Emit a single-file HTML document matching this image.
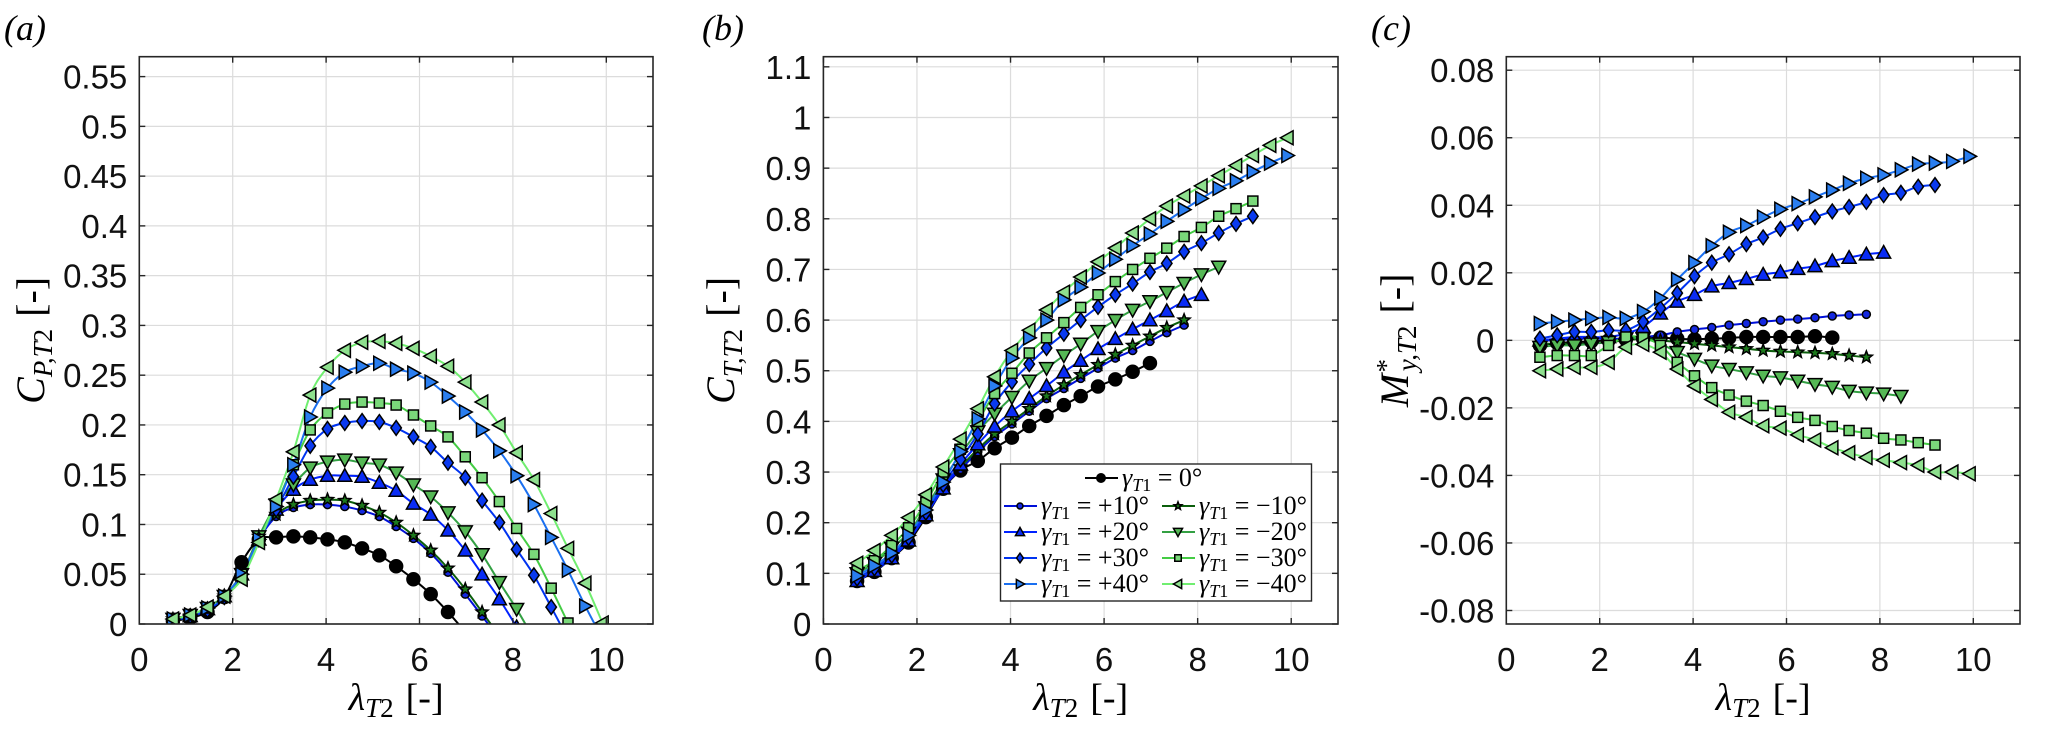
<!DOCTYPE html>
<html><head><meta charset="utf-8">
<style>
html,body{margin:0;padding:0;background:#fff;}
svg{display:block;}
.tick{font-family:"Liberation Sans",sans-serif;font-size:33px;fill:#111;}
.ser{font-family:"Liberation Serif",serif;}
</style></head>
<body>
<svg id="fig" width="2067" height="729" viewBox="0 0 2067 729" xmlns="http://www.w3.org/2000/svg">
<defs>
<clipPath id="clipA"><rect x="139.3" y="56.7" width="513.7" height="567.3"/></clipPath>
<clipPath id="clipB"><rect x="823.4" y="56.7" width="514.6" height="567.3"/></clipPath>
<clipPath id="clipC"><rect x="1506.3" y="56.7" width="513.7" height="567.3"/></clipPath>
</defs>
<text x="4" y="40" class="ser" font-size="36" font-style="italic">(a)</text>
<text x="702" y="40" class="ser" font-size="36" font-style="italic">(b)</text>
<text x="1371" y="40" class="ser" font-size="36" font-style="italic">(c)</text>
</svg>
<script>
// shared tip-speed-ratio values
const lambdaVals = [0.72,1.09,1.46,1.82,2.19,2.56,2.93,3.30,3.66,4.03,4.40,4.77,5.14,5.50,5.87,6.24,6.61,6.98,7.34,7.71,8.08,8.45,8.82,9.18,9.55,9.92];
const seriesKeys = ["0","p10","m10","p20","m20","p30","m30","p40","m40"];
// Panel (a) C_P
const cp0   = [0.003,0.006,0.012,0.027,0.062,0.085,0.087,0.088,0.087,0.085,0.082,0.076,0.069,0.058,0.045,0.030,0.012,-0.008];
const cpP10 = [0.004,0.007,0.014,0.027,0.050,0.085,0.108,0.117,0.120,0.120,0.118,0.114,0.108,0.098,0.086,0.071,0.052,0.030,0.008,-0.015];
const cpM10 = [0.005,0.008,0.015,0.028,0.048,0.088,0.110,0.120,0.124,0.125,0.124,0.119,0.112,0.102,0.089,0.074,0.056,0.035,0.012,-0.012];
const cpP20 = [0.004,0.008,0.015,0.028,0.050,0.085,0.115,0.135,0.145,0.149,0.149,0.148,0.142,0.134,0.121,0.110,0.094,0.074,0.050,0.025,-0.003];
const cpM20 = [0.005,0.009,0.016,0.028,0.050,0.088,0.120,0.140,0.157,0.163,0.165,0.162,0.160,0.152,0.140,0.128,0.112,0.093,0.070,0.042,0.015,-0.015];
const cpP30 = [0.004,0.008,0.014,0.027,0.050,0.085,0.115,0.148,0.179,0.196,0.202,0.204,0.203,0.197,0.188,0.178,0.162,0.147,0.124,0.102,0.075,0.049,0.017,-0.015];
const cpM30 = [0.005,0.009,0.016,0.028,0.050,0.085,0.120,0.160,0.195,0.212,0.221,0.223,0.222,0.220,0.210,0.199,0.188,0.168,0.147,0.123,0.096,0.070,0.036,0.001];
const cpP40 = [0.005,0.009,0.016,0.028,0.050,0.085,0.118,0.160,0.208,0.237,0.253,0.259,0.262,0.256,0.252,0.243,0.229,0.213,0.195,0.174,0.149,0.120,0.087,0.054,0.018,-0.015];
const cpM40 = [0.005,0.009,0.017,0.028,0.045,0.082,0.125,0.173,0.230,0.258,0.275,0.283,0.284,0.282,0.277,0.269,0.259,0.243,0.223,0.200,0.172,0.145,0.111,0.076,0.041,0.001];
// Panel (b) C_T
const ct0   = [0.085,0.103,0.130,0.161,0.211,0.267,0.303,0.322,0.347,0.368,0.391,0.411,0.432,0.450,0.469,0.483,0.498,0.515];
const ctP10 = [0.085,0.105,0.130,0.165,0.215,0.270,0.305,0.340,0.370,0.395,0.420,0.445,0.465,0.485,0.505,0.525,0.540,0.558,0.575,0.590];
const ctM10 = [0.090,0.110,0.135,0.170,0.220,0.275,0.310,0.345,0.375,0.400,0.425,0.450,0.472,0.492,0.512,0.532,0.550,0.568,0.585,0.600];
const ctP20 = [0.085,0.105,0.130,0.165,0.215,0.268,0.315,0.355,0.390,0.420,0.445,0.470,0.497,0.520,0.543,0.563,0.582,0.600,0.618,0.637,0.650];
const ctM20 = [0.100,0.120,0.150,0.180,0.230,0.285,0.335,0.380,0.415,0.448,0.480,0.505,0.530,0.553,0.578,0.600,0.620,0.637,0.655,0.673,0.690,0.705];
const ctP30 = [0.090,0.110,0.135,0.170,0.220,0.275,0.325,0.375,0.435,0.478,0.513,0.545,0.573,0.600,0.626,0.650,0.672,0.695,0.712,0.735,0.752,0.772,0.790,0.805];
const ctM30 = [0.105,0.125,0.155,0.190,0.240,0.300,0.345,0.400,0.455,0.495,0.535,0.565,0.595,0.625,0.650,0.676,0.700,0.722,0.742,0.765,0.783,0.805,0.820,0.835];
const ctP40 = [0.095,0.115,0.140,0.175,0.225,0.280,0.340,0.405,0.470,0.525,0.565,0.600,0.640,0.665,0.693,0.720,0.747,0.770,0.795,0.818,0.840,0.860,0.875,0.893,0.910,0.925];
const ctM40 = [0.120,0.145,0.175,0.210,0.255,0.310,0.365,0.425,0.488,0.540,0.580,0.620,0.655,0.685,0.715,0.742,0.772,0.800,0.825,0.845,0.865,0.885,0.905,0.925,0.945,0.960];
// Panel (c) M*_y
const my0   = [-0.0015,-0.0008,-0.0005,-0.0003,0,0.0002,0.0005,0.0008,0.0005,0.0003,0.0005,0.0007,0.001,0.001,0.001,0.001,0.0012,0.0008];
const myP10 = [0,0,0.0005,0.0005,0.0005,0.0005,0.001,0.0015,0.0025,0.0032,0.0038,0.0045,0.005,0.0055,0.006,0.0063,0.0067,0.0072,0.0075,0.0077];
const myM10 = [-0.001,-0.001,-0.001,-0.001,-0.0005,0,0.0005,0,-0.0005,-0.001,-0.0015,-0.002,-0.0025,-0.003,-0.0033,-0.0035,-0.0037,-0.004,-0.0045,-0.005];
const myP20 = [0,0.0005,0.001,0.001,0.001,0.002,0.004,0.008,0.0115,0.0135,0.016,0.017,0.0182,0.0195,0.0202,0.0212,0.022,0.0235,0.0245,0.0255,0.026];
const myM20 = [-0.002,-0.0015,-0.0015,-0.001,-0.0005,0.0005,0.0005,-0.001,-0.0035,-0.0055,-0.0075,-0.0085,-0.0095,-0.0105,-0.011,-0.012,-0.013,-0.0138,-0.015,-0.0155,-0.0158,-0.0165];
const myP30 = [0.0005,0.0015,0.0025,0.0025,0.003,0.003,0.0055,0.0095,0.014,0.019,0.023,0.0255,0.0285,0.0305,0.033,0.0347,0.0365,0.0382,0.0395,0.041,0.043,0.0437,0.0455,0.046];
const myM30 = [-0.005,-0.0045,-0.0045,-0.0045,-0.0015,0.001,0.0008,-0.0015,-0.0065,-0.0105,-0.014,-0.0162,-0.018,-0.0193,-0.021,-0.0228,-0.0237,-0.0255,-0.0267,-0.0275,-0.029,-0.0295,-0.0303,-0.031];
const myP40 = [0.005,0.0055,0.006,0.0065,0.0068,0.0065,0.0085,0.0125,0.018,0.023,0.028,0.032,0.034,0.0365,0.0388,0.0405,0.0425,0.0445,0.0465,0.048,0.049,0.0505,0.0522,0.0525,0.053,0.0545];
const myM40 = [-0.009,-0.0085,-0.008,-0.008,-0.0065,-0.002,-0.0012,-0.0035,-0.0085,-0.0135,-0.0175,-0.0213,-0.0228,-0.0253,-0.026,-0.028,-0.0295,-0.0318,-0.0333,-0.0347,-0.0355,-0.0362,-0.037,-0.039,-0.039,-0.0395];
// tick labels
const xTicks = [0,2,4,6,8,10];
const yTicksA = [0,0.05,0.1,0.15,0.2,0.25,0.3,0.35,0.4,0.45,0.5,0.55];
const yTickLabelsA = ["0","0.05","0.1","0.15","0.2","0.25","0.3","0.35","0.4","0.45","0.5","0.55"];
const yTicksB = [0,0.1,0.2,0.3,0.4,0.5,0.6,0.7,0.8,0.9,1,1.1];
const yTickLabelsB = ["0","0.1","0.2","0.3","0.4","0.5","0.6","0.7","0.8","0.9","1","1.1"];
const yTicksC = [-0.08,-0.06,-0.04,-0.02,0,0.02,0.04,0.06,0.08];
const yTickLabelsC = ["-0.08","-0.06","-0.04","-0.02","0","0.02","0.04","0.06","0.08"];
const legendLabels = ["0°","+10°","−10°","+20°","−20°","+30°","−30°","+40°","−40°"];

const NS = "http://www.w3.org/2000/svg";
const fig = document.getElementById('fig');
function mk(tag, attrs, parent){ const e=document.createElementNS(NS,tag); for(const k in attrs) e.setAttribute(k,attrs[k]); (parent||fig).appendChild(e); return e; }

const styles = {
  "0":  {line:"#000000", fill:"#000000", m:"circle", s:6.5},
  "p10":{line:"#0010d8", fill:"#1428e0", m:"dot", s:4},
  "m10":{line:"#0c5e0c", fill:"#1c7a1c", m:"star", s:6},
  "p20":{line:"#0022ff", fill:"#0a2cf5", m:"tup", s:7},
  "m20":{line:"#33a043", fill:"#55b855", m:"tdown", s:7},
  "p30":{line:"#0033f0", fill:"#0a3af0", m:"diamond", s:7},
  "m30":{line:"#44cc44", fill:"#7ad87a", m:"square", s:5},
  "p40":{line:"#1a6ff0", fill:"#2a7ef0", m:"tright", s:7},
  "m40":{line:"#70ee70", fill:"#8ee08e", m:"tleft", s:7}
};

function smoothPath(pts){
  if(pts.length<2) return "";
  let d = "M"+pts[0][0].toFixed(2)+","+pts[0][1].toFixed(2);
  for(let i=0;i<pts.length-1;i++){
    const p0=pts[i-1]||pts[i], p1=pts[i], p2=pts[i+1], p3=pts[i+2]||p2;
    const c1x=p1[0]+(p2[0]-p0[0])/6, c1y=p1[1]+(p2[1]-p0[1])/6;
    const c2x=p2[0]-(p3[0]-p1[0])/6, c2y=p2[1]-(p3[1]-p1[1])/6;
    d+=" C"+c1x.toFixed(2)+","+c1y.toFixed(2)+" "+c2x.toFixed(2)+","+c2y.toFixed(2)+" "+p2[0].toFixed(2)+","+p2[1].toFixed(2);
  }
  return d;
}

function marker(g, type, x, y, s, fill){
  const a = {fill:fill, stroke:"#000", "stroke-width":1.5};
  let e;
  if(type==="circle"||type==="dot"){ e=mk('circle',Object.assign({cx:x,cy:y,r:s},a),g); }
  else if(type==="square"){ e=mk('rect',Object.assign({x:x-s,y:y-s,width:2*s,height:2*s},a),g); }
  else {
    let p;
    if(type==="tup") p=[[x,y-s],[x+s,y+s*0.8],[x-s,y+s*0.8]];
    else if(type==="tdown") p=[[x,y+s],[x+s,y-s*0.8],[x-s,y-s*0.8]];
    else if(type==="tright") p=[[x+s,y],[x-s*0.8,y-s],[x-s*0.8,y+s]];
    else if(type==="tleft") p=[[x-s,y],[x+s*0.8,y-s],[x+s*0.8,y+s]];
    else if(type==="diamond") p=[[x,y-s*1.05],[x+s*0.75,y],[x,y+s*1.05],[x-s*0.75,y]];
    else if(type==="star"){ p=[]; for(let k=0;k<10;k++){const r=k%2?s*0.45:s*1.05; const t=-Math.PI/2+k*Math.PI/5; p.push([x+r*Math.cos(t),y+r*Math.sin(t)]);} }
    e=mk('polygon',Object.assign({points:p.map(q=>q[0].toFixed(2)+","+q[1].toFixed(2)).join(" ")},a),g);
  }
  return e;
}

function panel(cfg){
  const {id,left,right,top,bottom,ymin,ymax,yTicks,yLabels,data,clip} = cfg;
  const sx = v => left + (v-0)/(11-0)*(right-left);
  const sy = v => bottom - (v-ymin)/(ymax-ymin)*(bottom-top);
  const g = mk('g',{});
  
  
  mk('rect',{x:left,y:top,width:right-left,height:bottom-top,fill:"#fff"},g);
  xTicks.forEach(t=>{ const l=mk('line',{x1:sx(t),x2:sx(t),y1:top,y2:bottom,stroke:"#dcdcdc","stroke-width":1.2},g);
      });
  yTicks.forEach(t=>{ const l=mk('line',{x1:left,x2:right,y1:sy(t),y2:sy(t),stroke:"#dcdcdc","stroke-width":1.2},g);
      });
  const sg = mk('g',{"clip-path":"url(#"+clip+")"},g);
  
  
  seriesKeys.forEach((k,si)=>{
    const vals = data[si]; const st = styles[k];
    const pts = vals.map((v,i)=>[sx(lambdaVals[i]), sy(v)]);
    const path = mk('path',{d:smoothPath(pts),fill:"none",stroke:st.line,"stroke-width":2},sg);
    
    
  });
  seriesKeys.forEach((k,si)=>{
    const vals = data[si]; const st = styles[k];
    const mg = mk('g',{},sg);
    
    
    vals.forEach((v,i)=>{ const m=marker(mg, st.m, sx(lambdaVals[i]), sy(v), st.s, st.fill);
      
       });
  });
  const bx = mk('rect',{x:left,y:top,width:right-left,height:bottom-top,fill:"none",stroke:"#262626","stroke-width":1.6},g);
  
  
  xTicks.forEach(t=>{
    mk('line',{x1:sx(t),x2:sx(t),y1:bottom,y2:bottom-6,stroke:"#262626","stroke-width":1.4},g);
    mk('line',{x1:sx(t),x2:sx(t),y1:top,y2:top+6,stroke:"#262626","stroke-width":1.4},g);
    const tx = mk('text',{x:sx(t),y:671,"text-anchor":"middle",class:"tick"},g);
    tx.textContent = String(t);
    
    
  });
  yTicks.forEach((t,i)=>{
    mk('line',{x1:left,x2:left+6,y1:sy(t),y2:sy(t),stroke:"#262626","stroke-width":1.4},g);
    mk('line',{x1:right,x2:right-6,y1:sy(t),y2:sy(t),stroke:"#262626","stroke-width":1.4},g);
    const ty = mk('text',{x:left-12,y:sy(t)+12,"text-anchor":"end",class:"tick"},g);
    ty.textContent = yLabels[i];
    
    
  });
  const xl = mk('text',{x:(left+right)/2,y:710,"text-anchor":"middle",class:"ser","font-size":38},g);
  
  
  xl.innerHTML = '<tspan font-style="italic">λ</tspan><tspan font-style="italic" font-size="27" dy="7">T</tspan><tspan font-size="27">2</tspan><tspan dy="-7" dx="12">[-]</tspan>';
  const cy = (top+bottom)/2;
  const yl = mk('text',{x:0,y:0,"text-anchor":"middle",class:"ser","font-size":40,transform:"translate("+(cfg.ylabX)+","+cy+") rotate(-90)"},g);
  
  
  yl.innerHTML = cfg.ylabHTML;
  return {sx,sy};
}

panel({id:"cp",left:139.3,right:653,top:56.7,bottom:624,ymin:0,ymax:0.57,yTicks:yTicksA,yLabels:yTickLabelsA,clip:"clipA",
  data:[cp0,cpP10,cpM10,cpP20,cpM20,cpP30,cpM30,cpP40,cpM40], ylabX:44,
  ylabHTML:'<tspan font-style="italic">C</tspan><tspan font-style="italic" font-size="27" dy="8">P,T</tspan><tspan font-size="27">2</tspan><tspan dy="-8" dx="12">[-]</tspan>'});
panel({id:"ct",left:823.4,right:1338,top:56.7,bottom:624,ymin:0,ymax:1.12,yTicks:yTicksB,yLabels:yTickLabelsB,clip:"clipB",
  data:[ct0,ctP10,ctM10,ctP20,ctM20,ctP30,ctM30,ctP40,ctM40], ylabX:734,
  ylabHTML:'<tspan font-style="italic">C</tspan><tspan font-style="italic" font-size="27" dy="8">T,T</tspan><tspan font-size="27">2</tspan><tspan dy="-8" dx="12">[-]</tspan>'});
panel({id:"my",left:1506.3,right:2020,top:56.7,bottom:624,ymin:-0.084,ymax:0.084,yTicks:yTicksC,yLabels:yTickLabelsC,clip:"clipC",
  data:[my0,myP10,myM10,myP20,myM20,myP30,myM30,myP40,myM40], ylabX:1408,
  ylabHTML:'<tspan font-style="italic">M</tspan><tspan font-style="italic" font-size="27" dy="-13">*</tspan><tspan font-style="italic" font-size="27" dy="21" dx="-11">y,T</tspan><tspan font-size="27">2</tspan><tspan dy="-8" dx="12">[-]</tspan>'});

// legend
const lg = mk('g',{});


mk('rect',{x:1000.5,y:464,width:311,height:137,fill:"#fff",stroke:"#262626","stroke-width":1.4},lg);
const legendPos = [[1085,478],[1004,506],[1162,506],[1004,532],[1162,532],[1004,558],[1162,558],[1004,584],[1162,584]];
seriesKeys.forEach((k,i)=>{
  const st=styles[k]; const [x,y]=legendPos[i];
  const e = mk('g',{},lg);
  
  
  mk('line',{x1:x,x2:x+33,y1:y,y2:y,stroke:st.line,"stroke-width":2},e);
  marker(e, st.m, x+16, y, Math.max(3, st.s*0.65), st.fill);
  const t = mk('text',{x:x+37,y:y+8,class:"ser","font-size":26},e);
  t.innerHTML = '<tspan font-style="italic">γ</tspan><tspan font-style="italic" font-size="18" dy="5">T</tspan><tspan font-size="18">1</tspan><tspan dy="-5"> = '+legendLabels[i]+'</tspan>';
});
</script>
</body></html>
